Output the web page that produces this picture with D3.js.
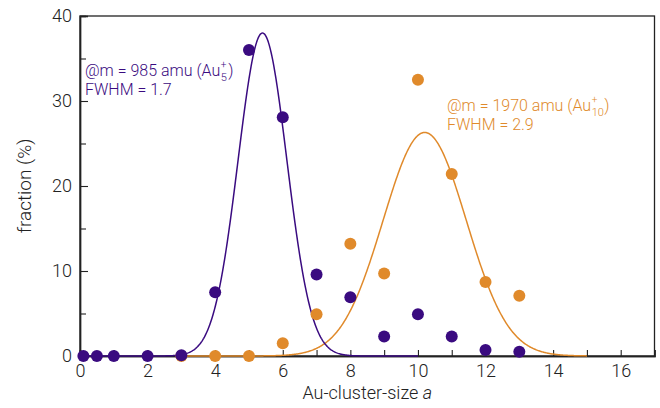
<!DOCTYPE html>
<html>
<head>
<meta charset="utf-8">
<script src="https://cdn.jsdelivr.net/npm/d3@7"></script>
<style>
  html, body { margin: 0; padding: 0; background: #fff; }
  svg { display: block; font-family: Roboto, "Liberation Sans", sans-serif; font-weight: 300; }
</style>
</head>
<body>
<svg id="chart" width="660" height="408"></svg>
<script>
// Cluster-size distributions measured at two mass settings
const sizesA = [0.1, 0.5, 1, 2, 3, 4, 5, 6, 7, 8, 9, 10, 11, 12, 13];
const fracA  = [0, 0, 0, 0, 0.1, 7.5, 36.0, 28.1, 9.6, 6.9, 2.3, 4.9, 2.3, 0.7, 0.5];

const sizesB = [3, 4, 5, 6, 7, 8, 9, 10, 11, 12, 13];
const fracB  = [0, 0, 0, 1.5, 4.9, 13.2, 9.7, 32.5, 21.4, 8.7, 7.1];

// Gaussian fits: [amplitude, centre, FWHM, from, to]
const fitA = [38.0, 5.4, 1.7, 0, 10];
const fitB = [26.3, 10.2, 2.9, 3, 15];

const xTicks = [0, 2, 4, 6, 8, 10, 12, 14, 16];
const xMinor = [1, 3, 5, 7, 9, 11, 13, 15];
const yTicks = [0, 10, 20, 30, 40];
const yMinor = [5, 15, 25, 35];

const purple = "#3a0b80";
const orange = "#e08a2b";

const svg = d3.select("#chart");
const L = 80, R = 654.5, T = 16, B = 356;

const x = d3.scaleLinear().domain([0, 17]).range([L, R]);
const y = d3.scaleLinear().domain([0, 40]).range([B, T]);

// frame
svg.append("rect")
  .attr("x", L).attr("y", T).attr("width", R - L).attr("height", B - T)
  .attr("fill", "none").attr("stroke", "#222").attr("stroke-width", 1.3);

// axes with inward ticks
svg.append("g").attr("transform", `translate(0,${B})`)
  .call(d3.axisBottom(x).tickValues(xTicks).tickSize(-6).tickPadding(8).tickFormat(d3.format("d")));
svg.append("g").attr("transform", `translate(0,${B})`)
  .call(d3.axisBottom(x).tickValues(xMinor).tickSize(-6).tickFormat(""));
svg.append("g").attr("transform", `translate(${L},0)`)
  .call(d3.axisLeft(y).tickValues(yTicks).tickSize(-8).tickPadding(8).tickFormat(d3.format("d")));
svg.append("g").attr("transform", `translate(${L},0)`)
  .call(d3.axisLeft(y).tickValues(yMinor).tickSize(-6).tickFormat(""));

svg.selectAll(".domain").attr("stroke", "#222").attr("stroke-width", 1.4);
svg.selectAll(".tick line").attr("stroke", "#222").attr("stroke-width", 1.1);
svg.selectAll(".tick text")
  .attr("fill", "#222").attr("font-size", 18)
  .attr("font-family", "Roboto, 'Liberation Sans', sans-serif").attr("font-weight", 300);

// axis titles
svg.append("text")
  .attr("x", (L + R) / 2).attr("y", 399)
  .attr("text-anchor", "middle").attr("font-size", 18).attr("fill", "#222")
  .html('Au-cluster-size <tspan font-style="italic">a</tspan>');
svg.append("text")
  .attr("transform", `translate(31,${(T + B) / 2}) rotate(-90)`)
  .attr("text-anchor", "middle").attr("font-size", 19).attr("fill", "#222")
  .text("fraction (%)");

// Gaussian fit curves
function gauss(p) {
  const [amp, mu, fwhm, a, b] = p;
  const s = fwhm / (2 * Math.sqrt(2 * Math.log(2)));
  return d3.range(a, b + 0.0001, 0.02).map(v => [v, amp * Math.exp(-((v - mu) ** 2) / (2 * s * s))]);
}
const line = d3.line().x(d => x(d[0])).y(d => y(d[1]));
svg.append("path").datum(gauss(fitB)).attr("d", line)
  .attr("fill", "none").attr("stroke", orange).attr("stroke-width", 1.5);
svg.append("path").datum(gauss(fitA)).attr("d", line)
  .attr("fill", "none").attr("stroke", purple).attr("stroke-width", 1.5);

// data points
svg.append("g").selectAll("circle").data(sizesB.map((s, i) => [s, fracB[i]]))
  .join("circle").attr("cx", d => x(d[0])).attr("cy", d => y(d[1])).attr("r", 6).attr("fill", orange);
svg.append("g").selectAll("circle").data(sizesA.map((s, i) => [s, fracA[i]]))
  .join("circle").attr("cx", d => x(d[0])).attr("cy", d => y(d[1])).attr("r", 6).attr("fill", purple);

// annotations: "@m = ... amu (Au_n^+)" and "FWHM = ..."
function label(x0, y0, color, mass, n, fwhm) {
  const g = svg.append("g").attr("fill", color).attr("font-size", 16);
  const t = g.append("text").attr("x", x0).attr("y", y0).text(`@m = ${mass} amu (Au`);
  const sx = x0 + t.node().getComputedTextLength() + 0.5;
  g.append("text").attr("x", sx).attr("y", y0 - 8).attr("font-size", 10).text("+");
  const sub = g.append("text").attr("x", sx).attr("y", y0 + 5).attr("font-size", 11).text(n);
  const sw = Math.max(sub.node().getComputedTextLength(), 7);
  g.append("text").attr("x", sx + sw + 0.5).attr("y", y0).text(")");
  g.append("text").attr("x", x0).attr("y", y0 + 19).text(`FWHM = ${fwhm}`);
}
label(85, 76, purple, 985, "5", fitA[2]);
label(447, 111, orange, 1970, "10", fitB[2]);
</script>
</body>
</html>
